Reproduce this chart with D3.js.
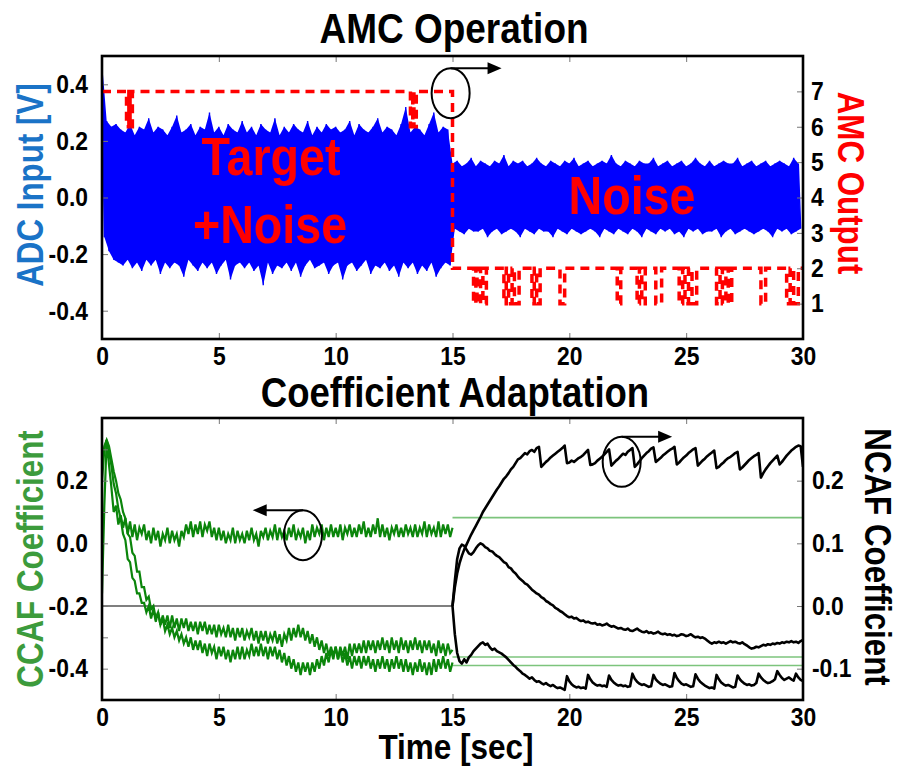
<!DOCTYPE html>
<html>
<head>
<meta charset="utf-8">
<script src="https://cdn.jsdelivr.net/npm/d3@7"></script>
<style>
body { margin: 0; background: #fff; }
svg { display: block; }
</style>
</head>
<body>
<div id="chart"></div>
<script>
// ---- data ----

// ADC input [V], one sample every 0.1 s from t = 0
var adcDt = 0.1
var adcInput = [
  0.48,-0.14,0.27,-0.19,0.25,-0.22,0.26,-0.23,0.24,-0.24,
  0.23,-0.22,0.26,-0.25,0.22,-0.23,0.25,-0.26,0.24,-0.22,
  0.28,-0.24,0.23,-0.22,0.25,-0.27,0.24,-0.23,0.22,-0.25,
  0.25,-0.23,0.29,-0.24,0.23,-0.28,0.24,-0.22,0.26,-0.24,
  0.22,-0.26,0.25,-0.23,0.24,-0.25,0.30,-0.23,0.23,-0.27,
  0.25,-0.24,0.22,-0.22,0.26,-0.29,0.24,-0.24,0.23,-0.23,
  0.27,-0.25,0.23,-0.23,0.25,-0.26,0.22,-0.24,0.26,-0.31,
  0.24,-0.23,0.23,-0.27,0.28,-0.24,0.22,-0.25,0.25,-0.23,
  0.23,-0.26,0.26,-0.23,0.24,-0.28,0.23,-0.24,0.27,-0.22,
  0.22,-0.25,0.25,-0.24,0.23,-0.23,0.26,-0.27,0.24,-0.24,
  0.25,-0.23,0.23,-0.29,0.24,-0.24,0.27,-0.23,0.22,-0.26,
  0.26,-0.24,0.24,-0.22,0.23,-0.27,0.25,-0.24,0.28,-0.25,
  0.23,-0.23,0.25,-0.26,0.24,-0.24,0.22,-0.28,0.26,-0.23,
  0.32,-0.25,0.23,-0.23,0.25,-0.27,0.24,-0.24,0.22,-0.26,
  0.26,-0.23,0.30,-0.28,0.23,-0.25,0.25,-0.23,0.24,-0.24,
  0.12,-0.11,0.13,-0.12,0.11,-0.13,0.12,-0.11,0.14,-0.12,
  0.11,-0.12,0.13,-0.11,0.12,-0.14,0.11,-0.12,0.13,-0.11,
  0.12,-0.13,0.15,-0.12,0.11,-0.11,0.13,-0.12,0.12,-0.14,
  0.13,-0.11,0.11,-0.12,0.12,-0.13,0.14,-0.11,0.12,-0.12,
  0.11,-0.12,0.13,-0.14,0.12,-0.11,0.11,-0.12,0.13,-0.13,
  0.12,-0.11,0.14,-0.12,0.11,-0.13,0.12,-0.12,0.13,-0.11,
  0.11,-0.12,0.12,-0.14,0.13,-0.11,0.12,-0.12,0.15,-0.13,
  0.12,-0.11,0.11,-0.12,0.13,-0.13,0.12,-0.11,0.11,-0.12,
  0.13,-0.14,0.12,-0.11,0.12,-0.12,0.14,-0.13,0.11,-0.11,
  0.12,-0.12,0.13,-0.11,0.11,-0.13,0.12,-0.12,0.13,-0.14,
  0.11,-0.11,0.12,-0.12,0.14,-0.11,0.12,-0.13,0.11,-0.12,
  0.13,-0.12,0.11,-0.11,0.12,-0.14,0.13,-0.12,0.12,-0.11,
  0.12,-0.13,0.14,-0.12,0.11,-0.11,0.12,-0.12,0.13,-0.13,
  0.11,-0.12,0.12,-0.11,0.13,-0.12,0.11,-0.14,0.12,-0.11,
  0.13,-0.12,0.12,-0.11,0.11,-0.13,0.14,-0.12,0.12,-0.11
]

// AMC output: level held from each change time
var amcTimes = [0, 1.05, 1.15, 1.2, 1.3, 13.2, 13.3, 13.35, 13.45, 15.0,
  15.9, 16.0, 16.05, 16.2, 16.3, 16.45, 17.2, 17.3, 17.4, 17.55, 17.65, 17.85,
  18.4, 18.5, 18.6, 18.75, 19.6, 19.8, 22.05, 22.2, 22.9, 23.0, 23.1, 23.25,
  23.7, 23.95, 24.7, 24.85, 24.95, 25.1, 25.25, 25.45, 26.3, 26.45, 26.55, 26.7,
  26.8, 26.95, 28.2, 28.4, 29.3, 29.45, 29.6, 29.8, 30]
var amcLevels = [7, 6, 7, 6, 7, 6, 7, 6, 7, 2,
  1, 2, 1, 2, 1, 2, 1, 2, 1, 2, 1, 2,
  1, 2, 1, 2, 1, 2, 1, 2, 1, 2, 1, 2,
  1, 2, 1, 2, 1, 2, 1, 2, 1, 2, 1, 2,
  1, 2, 1, 2, 1, 2, 1, 2, 2]

// coefficients, one sample every 0.1 s
var coefDt = 0.1
var ccafStart = 0
var ccaf1 = [
  -0.16,0.12,0.33,0.25,0.18,0.10,0.12,0.06,0.09,0.05,
  0.08,0.03,0.07,0.02,0.06,0.01,0.05,0.03,0.06,0.01,
  0.04,0.00,0.05,0.01,0.04,-0.01,0.03,0.01,0.05,0.00,
  0.04,0.01,0.03,-0.01,0.04,0.02,0.06,0.03,0.07,0.02,
  0.06,0.03,0.07,0.02,0.06,0.04,0.07,0.02,0.05,0.01,
  0.05,0.01,0.04,0.00,0.03,0.01,0.05,0.00,0.04,0.01,
  0.03,0.00,0.04,0.01,0.05,0.01,0.03,-0.01,0.04,0.02,
  0.05,0.01,0.04,0.02,0.06,0.01,0.05,0.02,0.04,0.01,
  0.05,0.02,0.06,0.01,0.04,0.02,0.05,0.00,0.04,0.01,
  0.06,0.02,0.05,0.03,0.06,0.01,0.05,0.02,0.06,0.02,
  0.05,0.02,0.06,0.01,0.05,0.03,0.06,0.02,0.05,0.02,
  0.06,0.03,0.07,0.02,0.05,0.02,0.06,0.03,0.08,0.02,
  0.06,0.02,0.05,0.01,0.05,0.03,0.06,0.02,0.05,0.02,
  0.06,0.03,0.05,0.02,0.06,0.02,0.05,0.03,0.07,0.02,
  0.06,0.03,0.05,0.02,0.07,0.02,0.06,0.03,0.06,0.02,
  0.05]
var ccaf2 = [
  0.20,0.30,0.33,0.29,0.25,0.19,0.16,0.11,0.08,0.03,
  0.01,-0.05,-0.06,-0.11,-0.12,-0.16,-0.16,-0.19,-0.19,-0.22,
  -0.20,-0.24,-0.21,-0.25,-0.22,-0.26,-0.23,-0.26,-0.23,-0.27,
  -0.23,-0.27,-0.24,-0.28,-0.24,-0.27,-0.24,-0.28,-0.25,-0.28,
  -0.25,-0.29,-0.25,-0.28,-0.25,-0.29,-0.26,-0.29,-0.26,-0.30,
  -0.26,-0.29,-0.27,-0.30,-0.26,-0.30,-0.27,-0.31,-0.27,-0.30,
  -0.27,-0.31,-0.28,-0.30,-0.27,-0.31,-0.28,-0.32,-0.28,-0.31,
  -0.28,-0.32,-0.29,-0.31,-0.28,-0.32,-0.29,-0.33,-0.29,-0.31,
  -0.27,-0.31,-0.27,-0.30,-0.26,-0.30,-0.27,-0.31,-0.28,-0.32,
  -0.29,-0.33,-0.30,-0.34,-0.31,-0.35,-0.32,-0.36,-0.33,-0.36,
  -0.33,-0.37,-0.33,-0.36,-0.33,-0.37,-0.32,-0.36,-0.32,-0.35,
  -0.32,-0.35,-0.31,-0.35,-0.31,-0.34,-0.31,-0.35,-0.31,-0.34,
  -0.30,-0.34,-0.31,-0.35,-0.30,-0.34,-0.31,-0.35,-0.30,-0.34,
  -0.31,-0.35,-0.31,-0.34,-0.30,-0.34,-0.31,-0.35,-0.31,-0.34,
  -0.31,-0.35,-0.32,-0.36,-0.31,-0.35,-0.32,-0.36,-0.32,-0.35,
  -0.34]
var ccaf3 = [
  0.25,0.31,0.33,0.31,0.27,0.23,0.20,0.16,0.14,0.10,
  0.08,0.03,0.02,-0.03,-0.04,-0.09,-0.09,-0.14,-0.14,-0.18,
  -0.17,-0.21,-0.20,-0.24,-0.22,-0.26,-0.24,-0.28,-0.26,-0.29,
  -0.27,-0.30,-0.28,-0.31,-0.29,-0.32,-0.30,-0.33,-0.30,-0.34,
  -0.31,-0.34,-0.31,-0.35,-0.32,-0.36,-0.32,-0.35,-0.33,-0.37,
  -0.33,-0.36,-0.33,-0.37,-0.34,-0.38,-0.34,-0.37,-0.33,-0.37,
  -0.33,-0.37,-0.34,-0.36,-0.32,-0.36,-0.33,-0.36,-0.32,-0.36,
  -0.33,-0.37,-0.33,-0.36,-0.33,-0.37,-0.34,-0.38,-0.35,-0.39,
  -0.36,-0.40,-0.37,-0.41,-0.38,-0.42,-0.38,-0.41,-0.38,-0.42,
  -0.38,-0.41,-0.37,-0.40,-0.36,-0.39,-0.35,-0.38,-0.34,-0.37,
  -0.33,-0.37,-0.34,-0.38,-0.35,-0.39,-0.36,-0.40,-0.36,-0.39,
  -0.36,-0.40,-0.36,-0.39,-0.36,-0.40,-0.37,-0.41,-0.37,-0.40,
  -0.36,-0.40,-0.37,-0.41,-0.37,-0.40,-0.36,-0.40,-0.37,-0.41,
  -0.37,-0.41,-0.38,-0.42,-0.38,-0.41,-0.37,-0.41,-0.38,-0.42,
  -0.38,-0.42,-0.37,-0.41,-0.37,-0.40,-0.36,-0.40,-0.37,-0.41,
  -0.38]
// CCAF values frozen after 15 s, NCAF frozen at 0 before 15 s
var ccafHeld = [0.082, -0.363, -0.39]
var ncafHeld = 0
var switchTime = 15

var ncafStart = 15
var ncaf1 = [
  0.000,0.030,0.052,0.068,0.080,0.090,0.098,0.106,0.114,0.121,
  0.128,0.135,0.142,0.150,0.156,0.162,0.168,0.174,0.180,0.186,
  0.191,0.197,0.203,0.207,0.212,0.218,0.222,0.228,0.234,0.236,
  0.240,0.244,0.242,0.247,0.249,0.246,0.252,0.254,0.222,0.226,
  0.230,0.233,0.237,0.240,0.243,0.246,0.249,0.252,0.256,0.228,
  0.229,0.232,0.230,0.233,0.236,0.238,0.241,0.245,0.249,0.225,
  0.226,0.228,0.232,0.235,0.238,0.242,0.246,0.250,0.224,0.228,
  0.232,0.235,0.239,0.243,0.241,0.246,0.249,0.252,0.222,0.226,
  0.231,0.236,0.240,0.244,0.247,0.251,0.253,0.230,0.233,0.236,
  0.240,0.243,0.246,0.249,0.251,0.254,0.226,0.229,0.233,0.237,
  0.240,0.244,0.247,0.250,0.252,0.224,0.228,0.232,0.235,0.239,
  0.242,0.245,0.248,0.220,0.222,0.226,0.229,0.233,0.236,0.238,
  0.241,0.244,0.246,0.218,0.221,0.225,0.229,0.233,0.236,0.239,
  0.241,0.244,0.205,0.212,0.218,0.223,0.228,0.232,0.236,0.240,
  0.226,0.230,0.235,0.240,0.244,0.248,0.251,0.254,0.256,0.255,
  0.222]
var ncaf2 = [
  0.000,0.040,0.075,0.092,0.098,0.096,0.090,0.084,0.082,0.086,
  0.092,0.097,0.100,0.098,0.094,0.092,0.088,0.087,0.083,0.080,
  0.078,0.074,0.070,0.068,0.062,0.060,0.055,0.052,0.047,0.043,
  0.040,0.036,0.034,0.030,0.026,0.023,0.020,0.018,0.014,0.012,
  0.008,0.006,0.003,0.001,-0.003,-0.005,-0.008,-0.010,-0.013,-0.016,
  -0.018,-0.017,-0.020,-0.019,-0.022,-0.024,-0.023,-0.026,-0.025,-0.027,
  -0.028,-0.027,-0.030,-0.029,-0.031,-0.030,-0.028,-0.031,-0.033,-0.032,
  -0.034,-0.036,-0.035,-0.037,-0.038,-0.036,-0.039,-0.040,-0.038,-0.036,
  -0.039,-0.041,-0.042,-0.040,-0.043,-0.042,-0.044,-0.043,-0.041,-0.044,
  -0.045,-0.044,-0.046,-0.045,-0.047,-0.046,-0.048,-0.047,-0.045,-0.046,
  -0.048,-0.047,-0.045,-0.048,-0.050,-0.049,-0.051,-0.050,-0.052,-0.055,
  -0.058,-0.060,-0.058,-0.059,-0.057,-0.059,-0.058,-0.060,-0.058,-0.056,
  -0.058,-0.057,-0.059,-0.060,-0.058,-0.061,-0.063,-0.066,-0.068,-0.067,
  -0.065,-0.066,-0.064,-0.062,-0.063,-0.061,-0.062,-0.060,-0.061,-0.059,
  -0.060,-0.058,-0.059,-0.057,-0.058,-0.056,-0.058,-0.057,-0.059,-0.056,
  -0.054]
var ncaf3 = [
  0.000,-0.045,-0.075,-0.088,-0.092,-0.085,-0.090,-0.082,-0.078,-0.072,
  -0.068,-0.064,-0.060,-0.058,-0.062,-0.060,-0.066,-0.070,-0.068,-0.072,
  -0.074,-0.076,-0.079,-0.082,-0.086,-0.090,-0.094,-0.097,-0.101,-0.104,
  -0.108,-0.110,-0.113,-0.116,-0.114,-0.118,-0.121,-0.120,-0.123,-0.125,
  -0.123,-0.126,-0.128,-0.126,-0.129,-0.131,-0.130,-0.132,-0.134,-0.112,
  -0.120,-0.125,-0.128,-0.130,-0.129,-0.131,-0.130,-0.132,-0.110,-0.117,
  -0.122,-0.125,-0.127,-0.126,-0.128,-0.127,-0.129,-0.111,-0.118,-0.122,
  -0.125,-0.127,-0.126,-0.128,-0.127,-0.129,-0.128,-0.108,-0.116,-0.121,
  -0.124,-0.126,-0.125,-0.127,-0.129,-0.128,-0.110,-0.117,-0.121,-0.124,
  -0.126,-0.125,-0.127,-0.129,-0.128,-0.107,-0.115,-0.120,-0.124,-0.126,
  -0.125,-0.127,-0.129,-0.128,-0.109,-0.116,-0.121,-0.124,-0.127,-0.129,
  -0.131,-0.130,-0.132,-0.110,-0.117,-0.122,-0.125,-0.127,-0.126,-0.128,
  -0.130,-0.129,-0.111,-0.117,-0.121,-0.124,-0.126,-0.125,-0.127,-0.126,
  -0.123,-0.108,-0.114,-0.118,-0.121,-0.123,-0.122,-0.120,-0.117,-0.104,
  -0.110,-0.115,-0.118,-0.116,-0.114,-0.117,-0.119,-0.108,-0.114,-0.118,
  -0.120]

// ticks
var timeTicks = [0, 5, 10, 15, 20, 25, 30]
var adcTicks = [-0.4, -0.2, 0, 0.2, 0.4]
var amcTicks = [1, 2, 3, 4, 5, 6, 7]
var ccafTicks = [-0.4, -0.3, -0.2, -0.1, 0, 0.1, 0.2, 0.3]
var ncafTicks = [-0.1, 0, 0.1, 0.2]

// circled regions with arrows pointing to the axis they belong to
var callouts = [
  {panel: "top", axis: "right", t: 14.92, v: 6.95, tipT: 17.1},
  {panel: "bottom", axis: "left", t: 8.6, v: 0.026, tipT: 6.45},
  {panel: "bottom", axis: "right", t: 22.24, v: 0.23, tipT: 24.4}
]

// ---- layout ----
var width = 898, height = 772
var plotLeft = 102, plotRight = 803
var topPanel = {top: 56, bottom: 339}
var botPanel = {top: 418, bottom: 700}
var fontFamily = "'Liberation Sans', Arial, Helvetica, sans-serif"
var squeeze = 0.87

var svg = d3.select("#chart").append("svg")
  .attr("width", width)
  .attr("height", height)

var x = d3.scaleLinear().domain([0, 30]).range([plotLeft, plotRight])
var yAdc = d3.scaleLinear().domain([-0.5, 0.5]).range([topPanel.bottom, topPanel.top])
var yAmc = d3.scaleLinear().domain([0, 8]).range([topPanel.bottom, topPanel.top])
var yCcaf = d3.scaleLinear().domain([-0.5, 0.4]).range([botPanel.bottom, botPanel.top])
var yNcaf = d3.scaleLinear().domain([-0.15, 0.3]).range([botPanel.bottom, botPanel.top])

function label(txt, px, py, size, color, rot, sx) {
  return svg.append("text")
    .attr("transform", "translate(" + px + "," + py + ") rotate(" + rot + ") scale(" + sx + ",1)")
    .attr("text-anchor", "middle")
    .attr("font-family", fontFamily)
    .attr("font-weight", "bold")
    .attr("font-size", size)
    .attr("fill", color)
    .text(txt)
}

function fmt1(d) { return d.toFixed(1) }

function styleAxis(g) {
  g.select(".domain").remove()
  g.selectAll(".tick line").attr("stroke", "#777").attr("stroke-width", 1)
  g.selectAll(".tick text")
    .attr("font-family", fontFamily)
    .attr("font-weight", "bold")
    .attr("font-size", 26)
    .attr("fill", "#000")
    .attr("transform", function() {
      var tx = +this.getAttribute("x") || 0
      return "translate(" + tx + ",0) scale(0.88,1) translate(" + (-tx) + ",0)"
    })
}

function clipFor(id, p) {
  svg.append("clipPath").attr("id", id)
    .append("rect")
    .attr("x", plotLeft).attr("y", p.top)
    .attr("width", plotRight - plotLeft).attr("height", p.bottom - p.top)
  return "url(#" + id + ")"
}

function frame(p) {
  svg.append("rect")
    .attr("x", plotLeft).attr("y", p.top)
    .attr("width", plotRight - plotLeft).attr("height", p.bottom - p.top)
    .attr("fill", "none")
    .attr("stroke", "#000")
    .attr("stroke-width", 2.6)
}

function timeAxes(p) {
  svg.append("g")
    .attr("transform", "translate(0," + p.bottom + ")")
    .call(d3.axisBottom(x).tickValues(timeTicks).tickSize(-6).tickPadding(8).tickFormat(d3.format("d")))
    .call(styleAxis)
  svg.append("g")
    .attr("transform", "translate(0," + p.top + ")")
    .call(d3.axisTop(x).tickValues(timeTicks).tickSize(-6).tickFormat(""))
    .call(styleAxis)
}

// ---- top panel: AMC operation ----
var clipTop = clipFor("clipTop", topPanel)
var gTop = svg.append("g").attr("clip-path", clipTop)

// the trace is dense enough to read as a band: fill between its positive
// and negative swings, then draw the trace itself on top for the spikes
var adcPts = adcInput.map(function(v, i) { return {t: i * adcDt, v: v} })
var adcUpper = adcPts.filter(function(p) { return p.v >= 0 })
var adcLower = adcPts.filter(function(p) { return p.v < 0 }).reverse()
var adcPath = d3.line()
  .x(function(p) { return x(p.t) })
  .y(function(p) { return yAdc(p.v) })

gTop.append("path")
  .attr("d", adcPath(adcUpper.concat(adcLower)) + "Z")
  .attr("fill", "#0000ff")

gTop.append("path")
  .datum(adcPts)
  .attr("fill", "none")
  .attr("stroke", "#0000ff")
  .attr("stroke-width", 1.4)
  .attr("d", adcPath)

var amcData = amcTimes.map(function(t, i) { return {t: t, v: amcLevels[i]} })
gTop.append("path")
  .datum(amcData)
  .attr("fill", "none")
  .attr("stroke", "#ff0000")
  .attr("stroke-width", 3.5)
  .attr("stroke-dasharray", "9,6")
  .attr("d", d3.line()
    .curve(d3.curveStepAfter)
    .x(function(d) { return x(d.t) })
    .y(function(d) { return yAmc(d.v) }))

label("Target", 271, 175, 53, "#ff0000", 0, 0.88)
label("+Noise", 270, 243, 53, "#ff0000", 0, 0.88)
label("Noise", 632, 214, 53, "#ff0000", 0, 0.88)

svg.append("g")
  .attr("transform", "translate(" + plotLeft + ",0)")
  .call(d3.axisLeft(yAdc).tickValues(adcTicks).tickSize(-6).tickPadding(14).tickFormat(fmt1))
  .call(styleAxis)
svg.append("g")
  .attr("transform", "translate(" + plotRight + ",0)")
  .call(d3.axisRight(yAmc).tickValues(amcTicks).tickSize(-6).tickPadding(8).tickFormat(d3.format("d")))
  .call(styleAxis)
timeAxes(topPanel)
frame(topPanel)

// ---- bottom panel: coefficient adaptation ----
var clipBot = clipFor("clipBot", botPanel)
var gBot = svg.append("g").attr("clip-path", clipBot)

gBot.append("line")
  .attr("x1", x(0)).attr("x2", x(switchTime))
  .attr("y1", yNcaf(ncafHeld)).attr("y2", yNcaf(ncafHeld))
  .attr("stroke", "#555")
  .attr("stroke-width", 1.3)

gBot.selectAll("line.held")
  .data(ccafHeld)
  .enter().append("line")
  .attr("class", "held")
  .attr("x1", x(switchTime)).attr("x2", x(30))
  .attr("y1", function(d) { return yCcaf(d) })
  .attr("y2", function(d) { return yCcaf(d) })
  .attr("stroke", "#7cc47c")
  .attr("stroke-width", 1.6)

var ccafLine = d3.line()
  .x(function(d, i) { return x(ccafStart + i * coefDt) })
  .y(function(d) { return yCcaf(d) })
gBot.selectAll("path.ccaf")
  .data([ccaf1, ccaf2, ccaf3])
  .enter().append("path")
  .attr("class", "ccaf")
  .attr("fill", "none")
  .attr("stroke", "#0b850b")
  .attr("stroke-width", 2.2)
  .attr("d", ccafLine)

var ncafLine = d3.line()
  .x(function(d, i) { return x(ncafStart + i * coefDt) })
  .y(function(d) { return yNcaf(d) })
gBot.selectAll("path.ncaf")
  .data([ncaf1, ncaf2, ncaf3])
  .enter().append("path")
  .attr("class", "ncaf")
  .attr("fill", "none")
  .attr("stroke", "#000")
  .attr("stroke-width", 2.6)
  .attr("stroke-linejoin", "round")
  .attr("d", ncafLine)

svg.append("g")
  .attr("transform", "translate(" + plotLeft + ",0)")
  .call(d3.axisLeft(yCcaf).tickValues(ccafTicks).tickSize(-6).tickPadding(14)
    .tickFormat(function(d) { return Math.round(d * 10) % 2 === 0 ? fmt1(d) : "" }))
  .call(styleAxis)
svg.append("g")
  .attr("transform", "translate(" + plotRight + ",0)")
  .call(d3.axisRight(yNcaf).tickValues(ncafTicks).tickSize(-6).tickPadding(9).tickFormat(fmt1))
  .call(styleAxis)
timeAxes(botPanel)
frame(botPanel)

// ---- callouts ----
var rx = 19, ry = 25
callouts.forEach(function(c) {
  var ys = c.panel === "top" ? yAmc : (c.axis === "left" ? yCcaf : yNcaf)
  var cx = x(c.t), cy = ys(c.v)
  var tip = x(c.tipT), ay = cy - ry
  var dir = tip > cx ? 1 : -1
  svg.append("ellipse")
    .attr("cx", cx).attr("cy", cy).attr("rx", rx).attr("ry", ry)
    .attr("fill", "none").attr("stroke", "#000").attr("stroke-width", 2)
  svg.append("line")
    .attr("x1", cx).attr("y1", ay).attr("x2", tip - dir * 10).attr("y2", ay)
    .attr("stroke", "#000").attr("stroke-width", 2)
  svg.append("path")
    .attr("d", "M" + tip + "," + ay + "L" + (tip - dir * 14) + "," + (ay - 6) + "L" + (tip - dir * 14) + "," + (ay + 6) + "Z")
    .attr("fill", "#000")
})

// ---- titles and axis labels ----
label("AMC Operation", 454, 43, 43, "#000", 0, 0.86)
label("Coefficient Adaptation", 455, 407, 42, "#000", 0, squeeze)
label("Time [sec]", 456, 759, 35, "#000", 0, 0.9)
label("ADC Input [V]", 43, 185, 36, "#1a73c7", -90, squeeze)
label("CCAF Coefficient", 43, 559, 36, "#3c9b3c", -90, squeeze)
label("AMC Output", 838, 183, 36, "#ff0000", 90, squeeze)
label("NCAF Coefficient", 865, 557, 36, "#000", 90, squeeze)
</script>
</body>
</html>
